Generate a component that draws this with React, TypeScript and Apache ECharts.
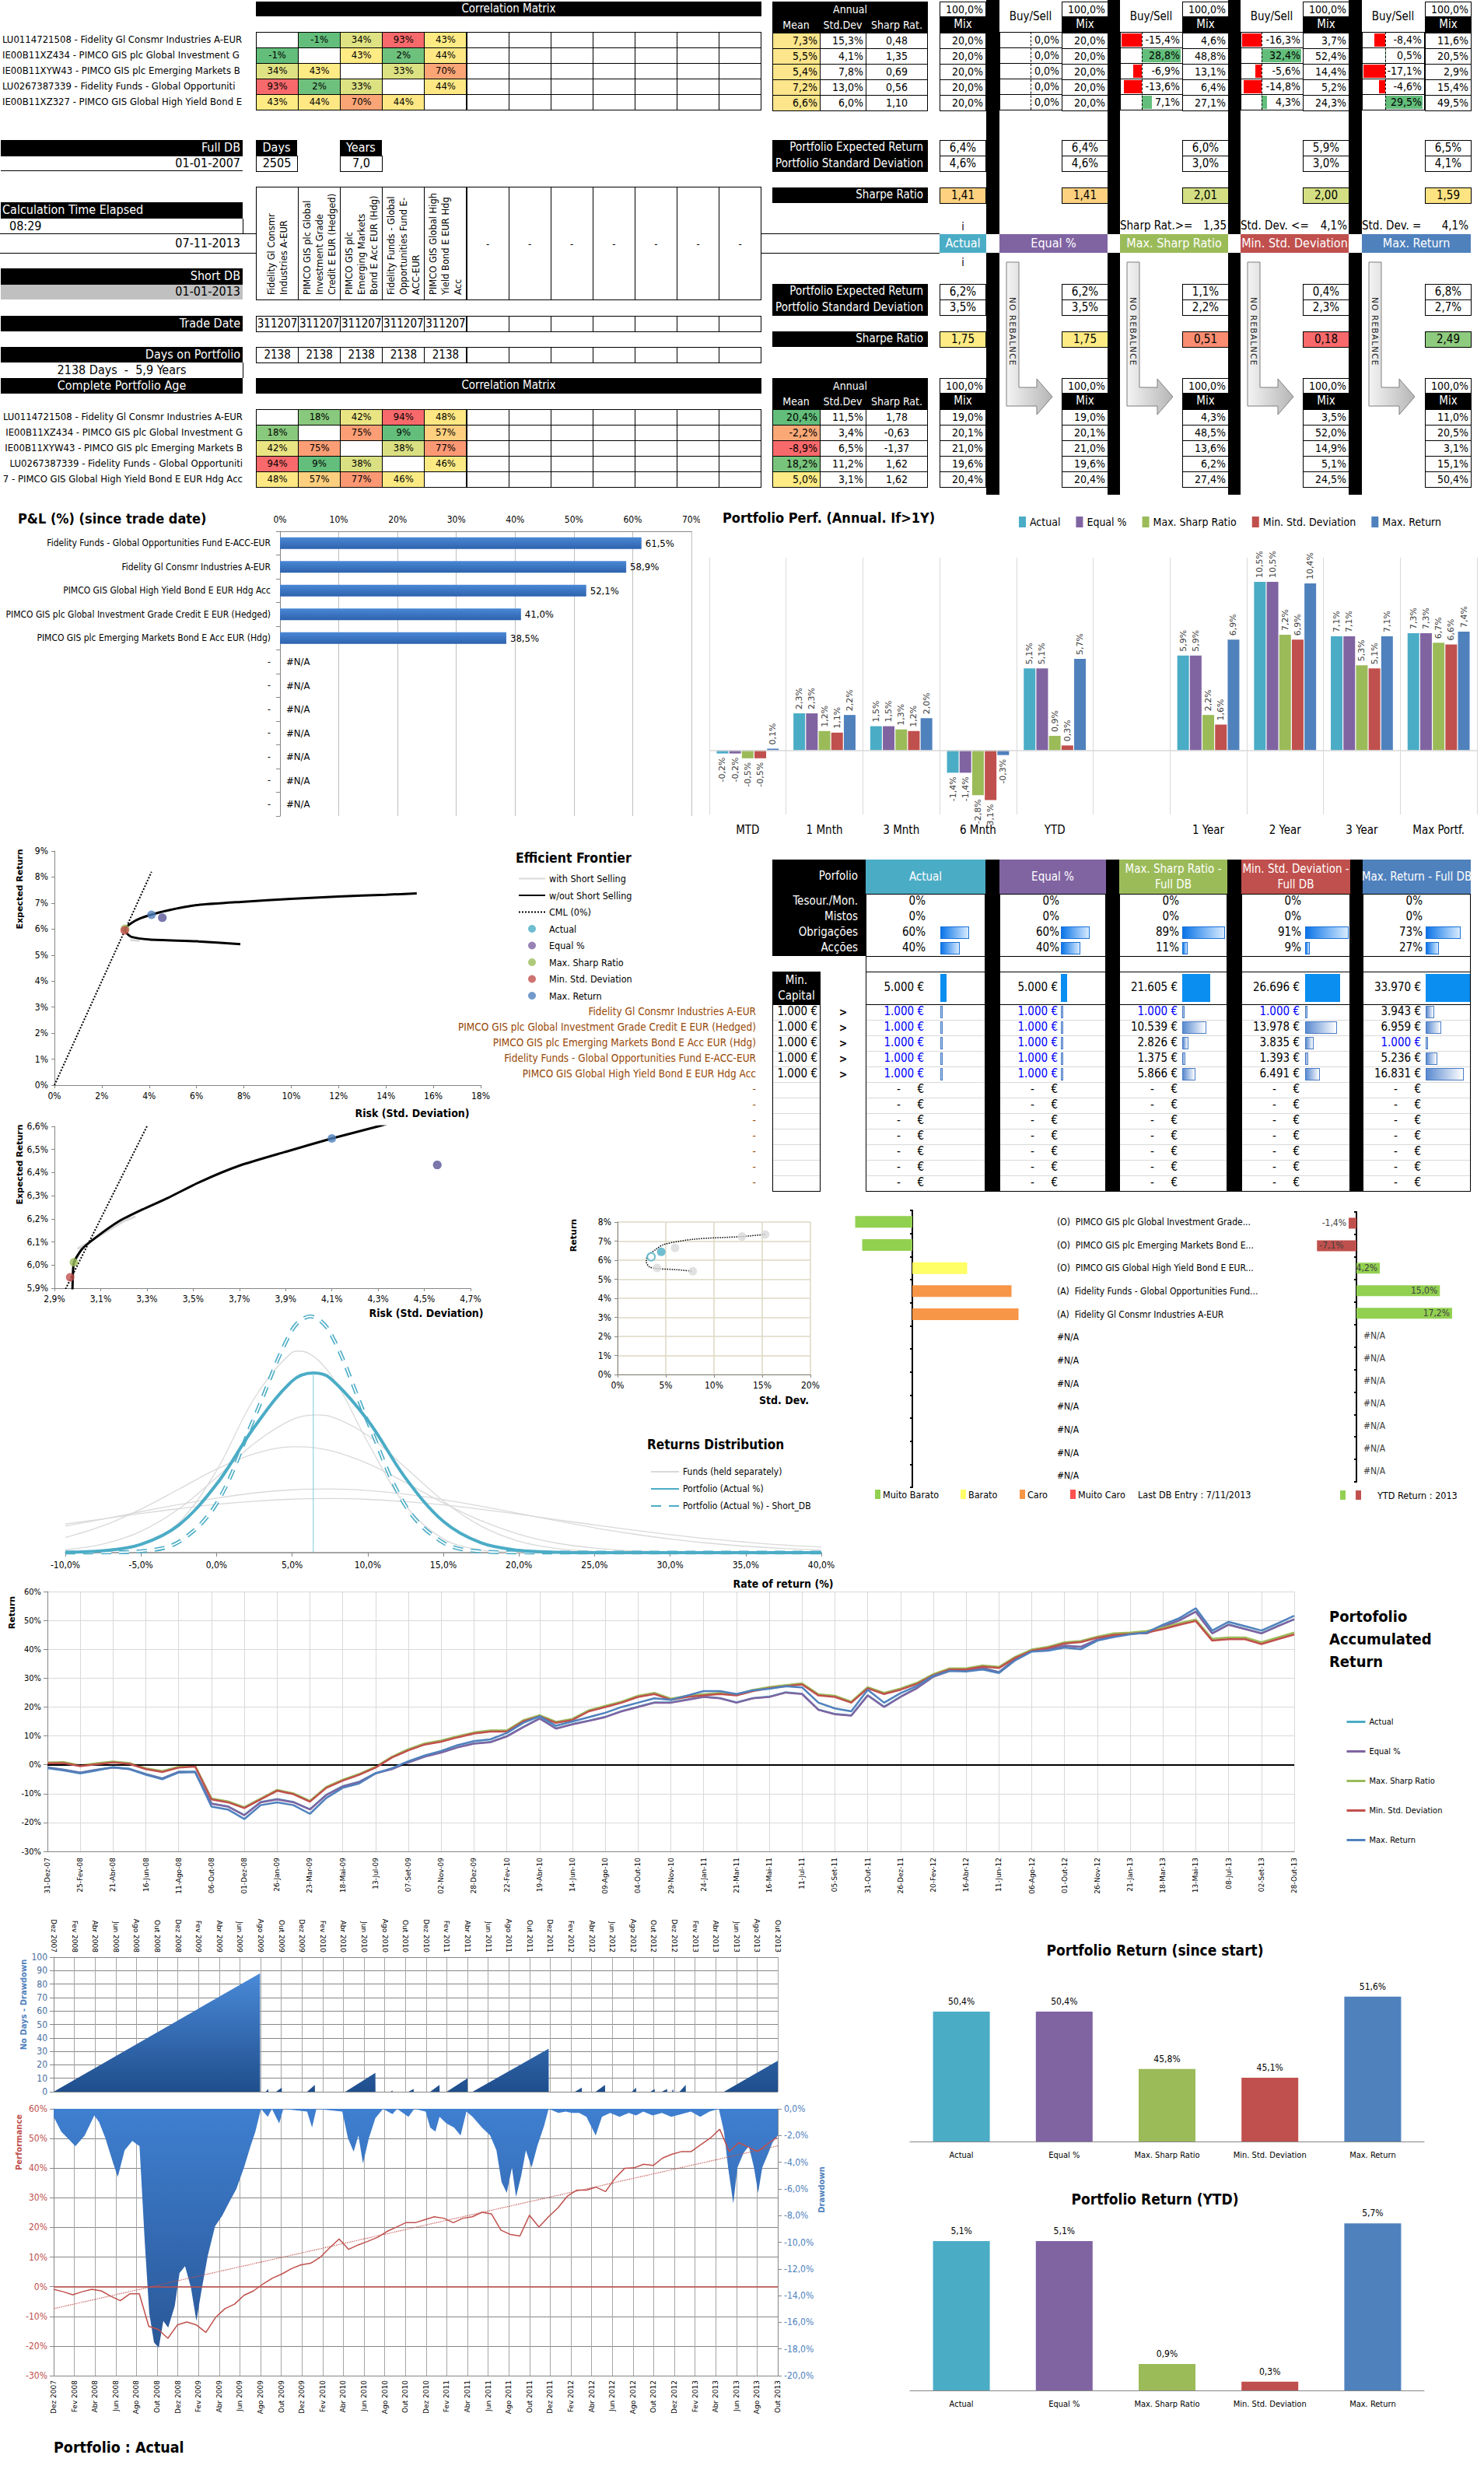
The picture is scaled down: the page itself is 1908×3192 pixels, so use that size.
import React, { useEffect, useRef } from 'react';
import * as echarts from 'echarts';

const NF = '"Liberation Sans Narrow","DejaVu Sans Condensed","Liberation Sans",Arial,sans-serif';
const WF = '"DejaVu Sans",Verdana,sans-serif';

// ======================= DATA =======================
const isins = ['LU0114721508', 'IE00B11XZ434', 'IE00B11XYW43', 'LU0267387339', 'IE00B11XZ327'];
const funds = [
  'Fidelity Gl Consmr Industries A-EUR',
  'PIMCO GIS plc Global Investment Grade Credit E EUR (Hedged)',
  'PIMCO GIS plc Emerging Markets Bond E Acc EUR (Hdg)',
  'Fidelity Funds - Global Opportunities Fund E-ACC-EUR',
  'PIMCO GIS Global High Yield Bond E EUR Hdg Acc',
];
const matrixLabelsFull = [
  'LU0114721508 - Fidelity Gl Consmr Industries A-EUR',
  'IE00B11XZ434 - PIMCO GIS plc Global Investment G',
  'IE00B11XYW43 - PIMCO GIS plc Emerging Markets B',
  'LU0267387339 - Fidelity Funds - Global Opportuniti',
  'IE00B11XZ327 - PIMCO GIS Global High Yield Bond E',
];
const matrixLabelsShort = [
  'LU0114721508 - Fidelity Gl Consmr Industries A-EUR',
  'IE00B11XZ434 - PIMCO GIS plc Global Investment G',
  'IE00B11XYW43 - PIMCO GIS plc Emerging Markets B',
  'LU0267387339 - Fidelity Funds - Global Opportuniti',
  '7 - PIMCO GIS Global High Yield Bond E EUR Hdg Acc',
];
const corrFull = [
  [null, -1, 34, 93, 43],
  [-1, null, 43, 2, 44],
  [34, 43, null, 33, 70],
  [93, 2, 33, null, 44],
  [43, 44, 70, 44, null],
];
const corrShort = [
  [null, 18, 42, 94, 48],
  [18, null, 75, 9, 57],
  [42, 75, null, 38, 77],
  [94, 9, 38, null, 46],
  [48, 57, 77, 46, null],
];
const meanFull = [7.3, 5.5, 5.4, 7.2, 6.6];
const sdFull = [15.3, 4.1, 7.8, 13.0, 6.0];
const sharpFull = [0.48, 1.35, 0.69, 0.56, 1.10];
const meanShort = [20.4, -2.2, -8.9, 18.2, 5.0];
const sdShort = [11.5, 3.4, 6.5, 11.2, 3.1];
const sharpShort = [1.78, -0.63, -1.37, 1.62, 1.62];

const strategies = ['Actual', 'Equal %', 'Max. Sharp Ratio', 'Min. Std. Deviation', 'Max. Return'];
const mixFull = [
  [20.0, 20.0, 20.0, 20.0, 20.0],
  [20.0, 20.0, 20.0, 20.0, 20.0],
  [4.6, 48.8, 13.1, 6.4, 27.1],
  [3.7, 52.4, 14.4, 5.2, 24.3],
  [11.6, 20.5, 2.9, 15.4, 49.5],
];
const buySellFull = [
  [0, 0, 0, 0, 0],
  [-15.4, 28.8, -6.9, -13.6, 7.1],
  [-16.3, 32.4, -5.6, -14.8, 4.3],
  [-8.4, 0.5, -17.1, -4.6, 29.5],
];
const mixShort = [
  [19.0, 20.1, 21.0, 19.6, 20.4],
  [19.0, 20.1, 21.0, 19.6, 20.4],
  [4.3, 48.5, 13.6, 6.2, 27.4],
  [3.5, 52.0, 14.9, 5.1, 24.5],
  [11.0, 20.5, 3.1, 15.1, 50.4],
];
const portRetFull = [6.4, 6.4, 6.0, 5.9, 6.5];
const portSdFull = [4.6, 4.6, 3.0, 3.0, 4.1];
const portSharpeFull = [1.41, 1.41, 2.01, 2.00, 1.59];
const portRetShort = [6.2, 6.2, 1.1, 0.4, 6.8];
const portSdShort = [3.5, 3.5, 2.2, 2.3, 2.7];
const portSharpeShort = [1.75, 1.75, 0.51, 0.18, 2.49];
const constraintLabels = ['Sharp Rat.>=', 'Std. Dev. <=', 'Std. Dev. ='];
const constraintValues = ['1,35', '4,1%', '4,1%'];
const tradeDates = ['311207', '311207', '311207', '311207', '311207'];
const daysOnPortfolio = [2138, 2138, 2138, 2138, 2138];

const allocRows = ['Tesour./Mon.', 'Mistos', 'Obrigações', 'Acções'];
const allocTesour = [0, 0, 0, 0, 0];
const allocMistos = [0, 0, 0, 0, 0];
const allocObrig = [60, 60, 89, 91, 73];
const allocAccoes = [40, 40, 11, 9, 27];
const capHeaders = ['Actual', 'Equal %', 'Max. Sharp Ratio -\nFull DB', 'Min. Std. Deviation -\nFull DB', 'Max. Return - Full DB'];
const capTotals = [5000, 5000, 21605, 26696, 33970];
const capActual = [1000, 1000, 1000, 1000, 1000];
const capEqual = [1000, 1000, 1000, 1000, 1000];
const capSharp = [1000, 10539, 2826, 1375, 5866];
const capMinSd = [1000, 13978, 3835, 1393, 6491];
const capMaxRet = [3943, 6959, 1000, 5236, 16831];
const minCapital = [1000, 1000, 1000, 1000, 1000];

const plNames = [
  'Fidelity Funds - Global Opportunities Fund E-ACC-EUR',
  'Fidelity Gl Consmr Industries A-EUR',
  'PIMCO GIS Global High Yield Bond E EUR Hdg Acc',
  'PIMCO GIS plc Global Investment Grade Credit E EUR (Hedged)',
  'PIMCO GIS plc Emerging Markets Bond E Acc EUR (Hdg)',
  '-', '-', '-', '-', '-', '-', '-',
];
const plValues = [61.5, 58.9, 52.1, 41.0, 38.5, null, null, null, null, null, null, null];

const perfCats = ['MTD', '1 Mnth', '3 Mnth', '6 Mnth', 'YTD', '', '1 Year', '2 Year', '3 Year', 'Max Portf.'];
const perfActual = [-0.2, 2.3, 1.5, -1.4, 5.1, null, 5.9, 10.5, 7.1, 7.3];
const perfEqual = [-0.2, 2.3, 1.5, -1.4, 5.1, null, 5.9, 10.5, 7.1, 7.3];
const perfSharp = [-0.5, 1.2, 1.3, -2.8, 0.9, null, 2.2, 7.2, 5.3, 6.7];
const perfMinSd = [-0.5, 1.1, 1.2, -3.1, 0.3, null, 1.6, 6.9, 5.1, 6.6];
const perfMaxRet = [0.1, 2.2, 2.0, -0.3, 5.7, null, 6.9, 10.4, 7.1, 7.4];

// efficient frontier (risk %, return %)
const frontierA = [[7.85, 5.42], [6.0, 5.53], [4.0, 5.6], [3.25, 5.7], [3.03, 5.86], [2.975, 5.96], [2.985, 6.03], [3.27, 6.24], [3.6, 6.4], [4.05, 6.54], [4.7, 6.7], [6.0, 6.92], [8.0, 7.05], [10.0, 7.16], [12.0, 7.25], [14.0, 7.32], [15.3, 7.37]];
const frontierB = [[2.975, 5.82], [2.978, 5.9], [2.984, 6.01], [3.02, 6.07], [3.08, 6.12], [3.18, 6.19], [3.28, 6.24], [3.39, 6.29], [3.53, 6.36], [3.7, 6.43], [3.9, 6.49], [4.1, 6.548], [4.3, 6.6], [4.4, 6.63]];
const shortSellA = [[3.2, 5.58], [3.6, 5.55]];
const shortSellB = [[3.0, 6.07], [3.1, 6.13], [3.2, 6.19], [3.25, 6.21]];
const cmlA = [[0, 0], [4.1, 8.2]];
const cmlB = [[2.93, 5.86], [3.31, 6.62]];
const ptActual = [4.556, 6.433];
const ptEqual = [4.556, 6.433];
const ptSharp = [2.984, 6.012];
const ptMinSd = [2.968, 5.947];
const ptMaxRet = [4.1, 6.548];

// small frontier
const smallCurve = [[15.3, 7.35], [12.9, 7.24], [7.95, 7.1], [4.84, 6.83], [3.9, 6.54], [3.1, 6.2], [2.98, 5.93], [3.3, 5.65], [4.1, 5.56], [6.1, 5.5], [7.8, 5.42]];
const smallFunds = [[15.3, 7.35], [12.9, 7.24], [5.96, 6.64], [4.1, 5.59], [7.8, 5.42]];
const smallActual = [4.53, 6.44];
const smallActualShort = [3.48, 6.18];

// returns distribution (rate %, density)
const distFund1 = [[-10, 0.0138], [-7.5, 0.0163], [-5, 0.0189], [-2.5, 0.0212], [0, 0.0233], [2.5, 0.0248], [5, 0.0258], [7.5, 0.0261], [10, 0.0257], [12.5, 0.0246], [15, 0.0230], [17.5, 0.0209], [20, 0.0185], [22.5, 0.0159], [25, 0.0134], [27.5, 0.0109], [30, 0.0087], [32.5, 0.0067], [35, 0.0051], [37.5, 0.0037], [40, 0.0027]];
const distFund2 = [[-10, 0.0128], [-7.5, 0.0162], [-5, 0.0198], [-2.5, 0.0232], [0, 0.0263], [2.5, 0.0288], [5, 0.0303], [7.5, 0.0307], [10, 0.0300], [12.5, 0.0282], [15, 0.0256], [17.5, 0.0224], [20, 0.0189], [22.5, 0.0154], [25, 0.0120], [27.5, 0.0091], [30, 0.0066], [32.5, 0.0046], [35, 0.0031], [37.5, 0.0020], [40, 0.0013]];
const distFund3 = [[-10, 0.0001], [-7.5, 0.0006], [-5, 0.0037], [-2.5, 0.0145], [0, 0.0396], [2.5, 0.0745], [5, 0.0966], [5.5, 0.0973], [7.5, 0.0864], [10, 0.0533], [12.5, 0.0227], [15, 0.0066], [17.5, 0.0013], [20, 0.0002], [22.5, 0], [25, 0], [30, 0], [35, 0], [40, 0]];
const distFund4 = [[-10, 0.0073], [-7.5, 0.0130], [-5, 0.0210], [-2.5, 0.0306], [0, 0.0403], [2.5, 0.0477], [5, 0.0511], [5.4, 0.0511], [7.5, 0.0493], [10, 0.0430], [12.5, 0.0338], [15, 0.0240], [17.5, 0.0154], [20, 0.0089], [22.5, 0.0046], [25, 0.0022], [27.5, 0.0009], [30, 0.0004], [32.5, 0.0001], [35, 0], [40, 0]];
const distFund5 = [[-10, 0.0014], [-7.5, 0.0042], [-5, 0.0103], [-2.5, 0.0211], [0, 0.0363], [2.5, 0.0527], [5, 0.0642], [6.6, 0.0665], [7.5, 0.0658], [10, 0.0566], [12.5, 0.0410], [15, 0.0250], [17.5, 0.0128], [20, 0.0055], [22.5, 0.0020], [25, 0.0006], [27.5, 0.0002], [30, 0], [35, 0], [40, 0]];
const distActual = [[-10, 0.0002], [-7.5, 0.0009], [-5, 0.0040], [-2.5, 0.0133], [0, 0.0330], [2.5, 0.0606], [5, 0.0828], [6.4, 0.0867], [7.5, 0.0843], [10, 0.0639], [12.5, 0.0360], [15, 0.0151], [17.5, 0.0047], [20, 0.0011], [22.5, 0.0002], [25, 0], [30, 0], [35, 0], [40, 0]];
const distShortDB = [[-10, 0], [-7.5, 0.0001], [-5, 0.0007], [-2.5, 0.0052], [0, 0.0237], [2.5, 0.0652], [5, 0.1075], [6.2, 0.1140], [7.5, 0.1064], [10, 0.0632], [12.5, 0.0226], [15, 0.0048], [17.5, 0.0006], [20, 0.0001], [22.5, 0], [25, 0], [30, 0], [35, 0], [40, 0]];
const distMeanLine = [[6.4, 0], [6.4, 0.0867]];

// valuation & YTD
const valLabels = [
  '(O)  PIMCO GIS plc Global Investment Grade...',
  '(O)  PIMCO GIS plc Emerging Markets Bond E...',
  '(O)  PIMCO GIS Global High Yield Bond E EUR...',
  '(A)  Fidelity Funds - Global Opportunities Fund...',
  '(A)  Fidelity Gl Consmr Industries A-EUR',
  '#N/A', '#N/A', '#N/A', '#N/A', '#N/A', '#N/A', '#N/A',
];
const valScore = [-0.49, -0.43, 0.47, 0.85, 0.91, null, null, null, null, null, null, null];
const valClass = ['Muito Barato', 'Muito Barato', 'Barato', 'Caro', 'Caro'];
const valClasses = ['Muito Barato', 'Barato', 'Caro', 'Muito Caro'];
const ytdReturn = [-1.4, -7.1, 4.2, 15.0, 17.2, null, null, null, null, null, null, null];

// accumulated return (points every 28 days from 31-Dez-07)
const accLabels = ['31-Dez-07', '25-Fev-08', '21-Abr-08', '16-Jun-08', '11-Ago-08', '06-Out-08', '01-Dez-08', '26-Jan-09', '23-Mar-09', '18-Mai-09', '13-Jul-09', '07-Set-09', '02-Nov-09', '28-Dez-09', '22-Fev-10', '19-Abr-10', '14-Jun-10', '09-Ago-10', '04-Out-10', '29-Nov-10', '24-Jan-11', '21-Mar-11', '16-Mai-11', '11-Jul-11', '05-Set-11', '31-Out-11', '26-Dez-11', '20-Fev-12', '16-Abr-12', '11-Jun-12', '06-Ago-12', '01-Out-12', '26-Nov-12', '21-Jan-13', '18-Mar-13', '13-Mai-13', '08-Jul-13', '02-Set-13', '28-Out-13'];
const accActual = [-0.9, -1.7, -2.7, -1.7, -0.9, -1.4, -3.2, -4.7, -2.4, -2.4, -13.4, -14.4, -17.4, -12.9, -11.9, -12.9, -15.4, -10.4, -7.4, -5.9, -2.9, -1.4, 0.9, 2.9, 4.3, 6.1, 7.4, 7.9, 9.9, 13.1, 16.1, 12.6, 14.1, 15.3, 16.6, 18.6, 20.1, 21.6, 21.6, 22.6, 23.6, 23.1, 21.6, 23.1, 23.6, 25.1, 24.6, 19.1, 17.6, 17.1, 24.1, 20.1, 23.6, 26.6, 30.6, 32.6, 32.6, 33.6, 32.1, 36.6, 39.9, 40.1, 41.3, 40.9, 43.4, 44.7, 45.6, 45.6, 47.9, 50.1, 53.1, 45.6, 48.6, 47.1, 45.6, 48.1, 50.4];
const accEqual = [-1.0, -1.8, -2.8, -1.8, -1.0, -1.5, -3.3, -4.8, -2.5, -2.5, -13.5, -14.5, -17.5, -13.0, -12.0, -13.0, -15.5, -10.5, -7.5, -6.0, -3.0, -1.5, 0.8, 2.8, 4.2, 6.0, 7.3, 7.8, 9.8, 13.0, 16.0, 12.5, 14.0, 15.2, 16.5, 18.5, 20.0, 21.5, 21.5, 22.5, 23.5, 23.0, 21.5, 23.0, 23.5, 25.0, 24.5, 19.0, 17.5, 17.0, 24.0, 20.0, 23.5, 26.5, 30.5, 32.5, 32.5, 33.5, 32.0, 36.5, 39.8, 40.0, 41.2, 40.8, 43.3, 44.6, 45.5, 45.5, 47.8, 50.0, 53.0, 45.5, 48.5, 47.0, 45.5, 48.0, 50.4];
const accSharp = [0.8, 0.9, -0.2, 0.5, 1.1, 0.6, -1.2, -2.2, -0.7, -0.3, -11.7, -12.7, -14.7, -11.7, -8.7, -9.9, -12.5, -7.7, -5.2, -3.2, -0.7, 2.8, 5.4, 7.4, 8.4, 9.9, 11.2, 11.9, 11.9, 15.4, 17.2, 14.9, 15.9, 18.9, 20.4, 21.9, 23.9, 24.9, 22.9, 23.9, 24.4, 24.9, 24.4, 25.9, 26.9, 27.6, 28.2, 24.4, 23.9, 21.9, 26.9, 24.9, 26.4, 28.4, 31.4, 33.4, 33.4, 34.4, 33.9, 37.4, 39.9, 40.9, 42.4, 42.9, 44.4, 45.5, 45.8, 46.3, 47.5, 49.0, 50.3, 43.6, 44.1, 44.1, 42.4, 44.1, 45.8];
const accMinSd = [0.5, 0.6, -0.5, 0.2, 0.8, 0.3, -1.5, -2.5, -1.0, -0.6, -12.0, -13.0, -15.0, -12.0, -9.0, -10.2, -12.8, -8.0, -5.5, -3.5, -1.0, 2.5, 5.0, 7.0, 8.0, 9.5, 10.8, 11.5, 11.5, 15.0, 16.8, 14.5, 15.5, 18.5, 20.0, 21.5, 23.5, 24.5, 22.5, 23.5, 24.0, 24.5, 24.0, 25.5, 26.5, 27.2, 27.8, 24.0, 23.5, 21.5, 26.5, 24.5, 26.0, 28.0, 31.0, 33.0, 33.0, 34.0, 33.5, 37.0, 39.5, 40.5, 42.0, 42.5, 44.0, 45.0, 45.3, 45.8, 47.0, 48.5, 49.8, 43.0, 43.5, 43.5, 41.8, 43.5, 45.1];
const accMaxRet = [-1.2, -2.0, -3.0, -2.0, -0.8, -1.5, -3.5, -5.0, -2.7, -2.5, -14.5, -15.5, -18.8, -14.0, -13.0, -14.0, -17.0, -11.5, -8.0, -6.5, -3.0, -1.2, 1.2, 3.2, 4.8, 6.8, 8.2, 8.8, 11.0, 14.5, 16.8, 13.5, 15.0, 16.5, 18.0, 20.0, 21.5, 23.0, 22.5, 24.0, 25.5, 25.5, 24.5, 25.8, 26.3, 27.2, 26.8, 21.5, 19.5, 18.5, 26.0, 21.5, 24.8, 27.3, 30.8, 32.5, 32.3, 33.0, 31.8, 36.2, 39.2, 39.5, 40.6, 40.0, 43.0, 44.2, 45.2, 45.8, 48.5, 50.8, 54.2, 46.5, 49.5, 48.0, 46.5, 49.0, 51.6];

// drawdown (x = months since Dez 2007)
const ddMonths = ['Dez 2007', 'Fev 2008', 'Abr 2008', 'Jun 2008', 'Ago 2008', 'Out 2008', 'Dez 2008', 'Fev 2009', 'Abr 2009', 'Jun 2009', 'Ago 2009', 'Out 2009', 'Dez 2009', 'Fev 2010', 'Abr 2010', 'Jun 2010', 'Ago 2010', 'Out 2010', 'Dez 2010', 'Fev 2011', 'Abr 2011', 'Jun 2011', 'Ago 2011', 'Out 2011', 'Dez 2011', 'Fev 2012', 'Abr 2012', 'Jun 2012', 'Ago 2012', 'Out 2012', 'Dez 2012', 'Fev 2013', 'Abr 2013', 'Jun 2013', 'Ago 2013', 'Out 2013'];
const ddDays = [[0, 0], [19.95, 88], [19.96, 0], [20.5, 0], [20.75, 2], [20.76, 0], [21.5, 0], [22.05, 3], [22.06, 0], [24.5, 0], [25.25, 5], [25.26, 0], [28.2, 0], [31.1, 14], [31.11, 0], [32.6, 0], [32.75, 1], [32.76, 0], [34.3, 0], [34.8, 2], [34.81, 0], [36.4, 0], [37.3, 5], [37.31, 0], [38.0, 0], [40.0, 10], [40.01, 0], [40.5, 0], [47.85, 32], [47.86, 0], [50.4, 0], [51.05, 3], [51.06, 0], [52.4, 0], [53.3, 5], [53.31, 0], [55.9, 0], [56.3, 3], [56.31, 0], [57.7, 0], [58.1, 2], [58.11, 0], [58.8, 0], [59.3, 2], [59.31, 0], [59.75, 0], [59.9, 2], [59.91, 0], [60.5, 0], [61.1, 5], [61.11, 0], [64.8, 0], [70, 23]];
const ddDepth = [[0, -0.6], [0.73, -1.7], [2.1, -2.8], [3.0, -2.0], [3.93, -0.5], [4.4, -1.0], [5.0, -2.2], [5.76, -4.1], [6.2, -5.1], [6.86, -3.1], [7.6, -2.4], [8.3, -2.8], [8.8, -9.9], [9.24, -15.3], [9.7, -17.5], [10.16, -17.9], [10.6, -15.9], [11.07, -16.4], [11.7, -14.8], [12.17, -12.3], [12.7, -11.8], [13.27, -13.4], [13.8, -15.9], [14.27, -13.7], [14.9, -11.0], [15.6, -8.8], [16.3, -8.0], [16.9, -7.1], [17.66, -6.0], [18.4, -4.4], [19.03, -2.8], [19.5, -1.7], [20.04, 0], [20.7, -0.6], [21.1, 0], [21.8, -1.1], [22.2, 0], [24.5, -0.2], [24.98, -1.4], [25.4, 0], [27.9, -0.2], [28.45, -2.2], [29.0, -3.2], [29.46, -2.0], [29.9, -4.1], [30.47, -2.2], [31.1, -0.7], [31.84, 0], [32.75, -0.4], [33.2, 0], [34.3, -0.6], [34.86, 0], [35.96, -0.2], [36.4, -1.4], [36.9, -1.7], [37.3, -0.6], [37.97, -1.1], [38.7, -1.4], [39.34, -2.0], [39.9, -0.2], [40.5, -0.6], [41.4, -1.4], [42.2, -2.0], [42.8, -3.1], [43.3, -5.5], [43.8, -6.3], [44.3, -4.4], [44.7, -6.6], [45.2, -5.0], [45.65, -3.1], [46.2, -4.4], [46.75, -2.8], [47.4, -1.3], [47.85, 0], [48.8, -0.3], [49.5, -0.2], [50.1, -0.3], [50.8, -0.3], [51.5, -0.6], [52.4, -2.0], [53.0, -0.6], [53.8, -0.3], [54.7, -0.6], [55.6, -0.3], [56.3, -0.5], [57.0, -0.2], [57.9, -0.5], [58.8, -0.3], [59.7, -0.6], [60.7, -0.4], [61.6, -0.2], [62.5, -0.6], [63.4, -0.2], [64.3, 0], [64.8, -1.7], [65.2, -4.4], [65.7, -7.1], [66.1, -4.4], [66.7, -3.3], [67.2, -2.8], [67.7, -4.4], [68.1, -6.3], [68.5, -4.4], [69.1, -3.3], [69.5, -2.5], [70, -2.0]];
const ddTrend = [[0, -7.4], [70, 47.5]];

const retSinceStart = [50.4, 50.4, 45.8, 45.1, 51.6];
const retYTD = [5.1, 5.1, 0.9, 0.3, 5.7];

// ======================= STYLE / LAYOUT =======================
const stratColors = ['#4bacc6', '#8064a2', '#9bbb59', '#c0504d', '#4f81bd'];
const GREEN = '#63be7b', YEL = '#ffeb84', RED = '#f8696b';
const axisGray = '#868686';
const COLX = 329, COLW = 54.1, ROW1 = 41, ROW2 = 526, RH = 20;
const MIXX = [1208, 1365, 1520, 1675, 1832];
const BSX = [1285, 1440, 1595, 1751];
const SEPS = [[1268, 17], [1424, 16], [1579, 16], [1734, 17]];
const CX = [1113, 1285, 1439, 1596, 1752];
const CWD = [154, 137, 139, 140, 139];
const CSEP = [[1267, 18], [1422, 17], [1578, 18], [1736, 16]];
const sharpeBgFull = ['#fdd17f', '#fdd17f', '#d3df82', '#d3df82', '#fee382'];
const sharpeBgShort = ['#ffeb84', '#ffeb84', '#f98d71', '#f8696b', '#8ecb7e'];

const pct1 = (v: number) => v.toFixed(1).replace('.', ',') + '%';
const dec2 = (v: number) => v.toFixed(2).replace('.', ',');
const eur = (v: number) => String(v).replace(/\B(?=(\d{3})+(?!\d))/g, '.') + ' €';
function hex(c: string) { return [1, 3, 5].map(i => parseInt(c.slice(i, i + 2), 16)); }
function mixC(a: string, b: string, t: number) {
  const A = hex(a), Bc = hex(b);
  const tt = Math.max(0, Math.min(1, t));
  return 'rgb(' + A.map((x, i) => Math.round(x + (Bc[i] - x) * tt)).join(',') + ')';
}
function scale3(v: number, min: number, mid: number, max: number, lo: string, md: string, hi: string) {
  if (v <= mid) return mixC(lo, md, (v - min) / (mid - min || 1));
  return mixC(md, hi, (v - mid) / (max - mid || 1));
}
function stats(m: any[][]) {
  const vals: number[] = [];
  m.forEach(r => r.forEach(v => { if (v != null) vals.push(v); }));
  vals.sort((a, b) => a - b);
  const n = vals.length;
  const med = n % 2 ? vals[(n - 1) / 2] : (vals[n / 2 - 1] + vals[n / 2]) / 2;
  return [vals[0], med, vals[n - 1]];
}

type BP = { x: number; y: number; w: number; h: number; bg?: string; c?: string; al?: string; fs?: number; b?: boolean; bd?: boolean; pr?: number; pl?: number; ff?: string; st?: any; children?: any };
function B(p: BP) {
  return (
    <div style={{
      position: 'absolute', left: p.x, top: p.y, width: p.w, height: p.h, background: p.bg, color: p.c || '#000',
      display: 'flex', alignItems: 'center', justifyContent: p.al === 'l' ? 'flex-start' : p.al === 'r' ? 'flex-end' : 'center',
      fontSize: p.fs || 13, fontWeight: p.b ? 'bold' : 'normal', fontFamily: p.ff || NF, boxSizing: 'border-box',
      border: p.bd ? '1px solid #000' : undefined, paddingRight: p.pr, paddingLeft: p.pl, whiteSpace: 'nowrap', overflow: 'hidden', lineHeight: 1.15,
      ...(p.st || {}),
    }}>{p.children}</div>
  );
}

function EC({ x, y, w, h, make }: any) {
  const ref = useRef<HTMLDivElement>(null);
  useEffect(() => {
    const chart = echarts.init(ref.current as HTMLDivElement, null, { renderer: 'svg' });
    chart.setOption(make());
    return () => chart.dispose();
  }, []);
  return <div ref={ref} style={{ position: 'absolute', left: x, top: y, width: w, height: h }} />;
}

// ======================= TABLES =======================
function buildTables(els: any[]) {
  let key = 0;
  const add = (p: BP) => els.push(<B key={'t' + key++} {...p} />);

  const matrix = (m: any[][], labels: string[], y0: number, rightAlignLabels: boolean) => {
    const [mn, md, mx] = stats(m);
    for (let i = 0; i < 5; i++) {
      add({ x: rightAlignLabels ? 0 : 3, y: y0 + i * RH, w: rightAlignLabels ? 312 : 309, h: RH, al: rightAlignLabels ? 'r' : 'l', fs: 13, children: labels[i] });
      for (let j = 0; j < 12; j++) {
        const v = j < 5 ? m[i][j] : null;
        add({ x: COLX + j * COLW, y: y0 + i * RH, w: COLW + 1, h: RH + 1, bd: true, fs: 13, bg: v == null ? '#fff' : scale3(v, mn, md, mx, GREEN, YEL, RED), children: v == null ? '' : v + '%' });
      }
    }
  };
  const annual = (y0: number, means: number[], sds: number[], srs: number[], meanBg: (v: number) => string) => {
    add({ x: 993, y: y0, w: 200, h: 40, bg: '#000' });
    add({ x: 993, y: y0, w: 200, h: 20, c: '#fff', fs: 14, children: 'Annual' });
    add({ x: 993, y: y0 + 20, w: 61, h: 20, c: '#fff', fs: 14, children: 'Mean' });
    add({ x: 1054, y: y0 + 20, w: 59, h: 20, c: '#fff', fs: 14, children: 'Std.Dev' });
    add({ x: 1113, y: y0 + 20, w: 80, h: 20, c: '#fff', fs: 14, children: 'Sharp Rat.' });
    for (let i = 0; i < 5; i++) {
      const y = y0 + 40 + i * RH;
      add({ x: 993, y, w: 62, h: RH + 1, bd: true, bg: meanBg(means[i]), al: 'r', pr: 3, fs: 14, children: pct1(means[i]) });
      add({ x: 1054, y, w: 60, h: RH + 1, bd: true, al: 'r', pr: 3, fs: 14, children: pct1(sds[i]) });
      add({ x: 1113, y, w: 80, h: RH + 1, bd: true, fs: 14, children: dec2(srs[i]) });
    }
  };
  const mixCols = (y0: number, mixes: number[][]) => {
    MIXX.forEach((x, i) => {
      add({ x, y: y0, w: 60, h: 20, bd: true, al: 'r', pr: 3, fs: 14, children: '100,0%' });
      add({ x, y: y0 + 20, w: 60, h: 20, bg: '#000', c: '#fff', fs: 15, children: 'Mix' });
      for (let r = 0; r < 5; r++) add({ x, y: y0 + 40 + r * RH, w: 60, h: RH + 1, bd: true, al: 'r', pr: 3, fs: 14, children: pct1(mixes[i][r]) });
    });
  };
  const portStats = (y0: number, rets: number[], sds: number[], shs: number[], bgs: string[]) => {
    add({ x: 993, y: y0, w: 200, h: 41, bg: '#000' });
    add({ x: 993, y: y0, w: 200, h: 20, c: '#fff', al: 'r', pr: 6, fs: 15, children: 'Portfolio Expected Return' });
    add({ x: 993, y: y0 + 20, w: 200, h: 21, c: '#fff', al: 'r', pr: 6, fs: 15, children: 'Portfolio Standard Deviation' });
    add({ x: 993, y: y0 + 61, w: 200, h: 20, bg: '#000', c: '#fff', al: 'r', pr: 6, fs: 15, children: 'Sharpe Ratio' });
    MIXX.forEach((x, i) => {
      add({ x, y: y0, w: 60, h: 21, bd: true, fs: 15, children: pct1(rets[i]) });
      add({ x, y: y0 + 20, w: 60, h: 21, bd: true, fs: 15, children: pct1(sds[i]) });
      add({ x, y: y0 + 61, w: 60, h: 21, bd: true, bg: bgs[i], fs: 15, children: dec2(shs[i]) });
    });
  };

  // ---- top block
  add({ x: 329, y: 2, w: 650, h: 19, bg: '#000', c: '#fff', fs: 15, children: 'Correlation Matrix' });
  matrix(corrFull, matrixLabelsFull, ROW1, false);
  annual(2, meanFull, sdFull, sharpFull, () => '#fce58a');
  SEPS.forEach(([x, w]) => { add({ x, y: 0, w, h: 301, bg: '#000' }); add({ x, y: 325, w, h: 311, bg: '#000' }); });
  mixCols(2, mixFull);
  BSX.forEach((x, k) => {
    add({ x, y: 2, w: 80, h: 39, fs: 15, children: 'Buy/Sell' });
    const vals = buySellFull[k];
    const mn = Math.min(0, ...vals), mx = Math.max(0, ...vals);
    const range = mx - mn;
    const axisX = range === 0 ? x + 40 : x + 2 + (-mn / range) * 76;
    for (let r = 0; r < 5; r++) {
      const y = ROW1 + r * RH;
      add({ x, y, w: 81, h: RH + 1, bd: true });
      const v = vals[r];
      if (range > 0 && v !== 0) {
        const bw = Math.abs(v) / range * 76;
        add({ x: v < 0 ? axisX - bw : axisX, y: y + 2, w: bw, h: RH - 3, bg: v < 0 ? '#ff0000' : '#63be7b' });
      }
      add({ x, y, w: 80, h: RH, al: 'r', pr: 3, fs: 14, children: pct1(v) });
    }
    els.push(<div key={'ax' + k} style={{ position: 'absolute', left: axisX, top: ROW1, width: 0, height: 100, borderLeft: '1px dashed #000' }} />);
  });
  portStats(180, portRetFull, portSdFull, portSharpeFull, sharpeBgFull);
  add({ x: 1208, y: 282, w: 60, h: 18, fs: 14, children: 'i' });
  [1440, 1595, 1751].forEach((x, i) => {
    add({ x, y: 282, w: 140, h: 18, al: 'l', fs: 15, children: constraintLabels[i] });
    add({ x, y: 282, w: 140, h: 18, al: 'r', pr: 3, fs: 15, children: constraintValues[i] });
  });
  add({ x: 0, y: 300, w: 329, h: 1, bg: '#000' });
  add({ x: 0, y: 325, w: 329, h: 1, bg: '#000' });
  add({ x: 978, y: 300, w: 230, h: 1, bg: '#000' });
  add({ x: 978, y: 325, w: 230, h: 1, bg: '#000' });
  const bandX = [[1208, 60], [1285, 139], [1440, 139], [1595, 139], [1751, 140]];
  bandX.forEach(([x, w], i) => add({ x, y: 301, w, h: 24, bg: stratColors[i], c: '#fff', fs: 16, children: strategies[i] }));
  add({ x: 1208, y: 328, w: 60, h: 18, fs: 14, children: 'i' });
  portStats(365, portRetShort, portSdShort, portSharpeShort, sharpeBgShort);
  annual(486, meanShort, sdShort, sharpShort, (v) => scale3(v, Math.min(...meanShort), 5.0, Math.max(...meanShort), RED, YEL, GREEN));
  mixCols(486, mixShort);
  BSX.forEach((x, k) => {
    els.push(<div key={'nr' + k} style={{ position: 'absolute', left: x + 9, top: 378, width: 16, height: 96, writingMode: 'vertical-rl', fontFamily: WF, fontSize: 10.5, letterSpacing: 1.2, color: '#222', display: 'flex', alignItems: 'center', justifyContent: 'center', zIndex: 2 }}>NO REBALNCE</div>);
  });

  // ---- left block
  add({ x: 1, y: 180, w: 311, h: 21, bg: '#000', c: '#fff', al: 'r', pr: 3, fs: 16, children: 'Full DB' });
  add({ x: 1, y: 201, w: 311, h: 19, al: 'r', pr: 3, fs: 16, children: '01-01-2007', st: { borderBottom: '1px solid #000' } });
  add({ x: 329, y: 180, w: 53, h: 21, bg: '#000', c: '#fff', fs: 16, children: 'Days' });
  add({ x: 329, y: 200, w: 54, h: 21, bd: true, fs: 16, children: '2505' });
  add({ x: 437, y: 180, w: 54, h: 21, bg: '#000', c: '#fff', fs: 16, children: 'Years' });
  add({ x: 437, y: 200, w: 55, h: 21, bd: true, fs: 16, children: '7,0' });
  add({ x: 1, y: 260, w: 311, h: 21, bg: '#000', c: '#fff', al: 'l', pl: 2, fs: 16, children: 'Calculation Time Elapsed' });
  add({ x: 1, y: 281, w: 312, h: 20, al: 'l', pl: 11, fs: 16, children: '08:29', st: { borderRight: '1px solid #000' } });
  add({ x: 1, y: 301, w: 311, h: 24, al: 'r', pr: 3, fs: 16, children: '07-11-2013' });
  add({ x: 1, y: 345, w: 311, h: 21, bg: '#000', c: '#fff', al: 'r', pr: 3, fs: 16, children: 'Short DB' });
  add({ x: 1, y: 366, w: 311, h: 19, bg: '#c0c0c0', al: 'r', pr: 3, fs: 16, children: '01-01-2013' });
  for (let j = 0; j < 12; j++) {
    const x = COLX + j * COLW;
    els.push(
      <div key={'vh' + j} style={{ position: 'absolute', left: x, top: 240, width: COLW + 1, height: 146, border: '1px solid #000', boxSizing: 'border-box', display: 'flex', justifyContent: 'center', alignItems: j < 5 ? 'flex-end' : 'center', overflow: 'hidden' }}>
        {j < 5 ? (
          <div style={{ writingMode: 'vertical-rl', transform: 'rotate(180deg)', height: 140, fontFamily: WF, fontSize: 11.5, lineHeight: '16px', whiteSpace: 'normal', paddingTop: 6, boxSizing: 'border-box' }}>{funds[j]}</div>
        ) : <span style={{ fontFamily: NF, fontSize: 13 }}>-</span>}
      </div>
    );
  }
  add({ x: 1, y: 406, w: 311, h: 20, bg: '#000', c: '#fff', al: 'r', pr: 3, fs: 16, children: 'Trade Date' });
  add({ x: 1, y: 446, w: 311, h: 20, bg: '#000', c: '#fff', al: 'r', pr: 3, fs: 16, children: 'Days on Portfolio' });
  for (let j = 0; j < 12; j++) {
    add({ x: COLX + j * COLW, y: 406, w: COLW + 1, h: 21, bd: true, fs: 15, children: j < 5 ? tradeDates[j] : '' });
    add({ x: COLX + j * COLW, y: 446, w: COLW + 1, h: 21, bd: true, fs: 15, children: j < 5 ? String(daysOnPortfolio[j]) : '' });
  }
  add({ x: 1, y: 466, w: 312, h: 20, fs: 16, children: '2138 Days  -  5,9 Years', st: { borderRight: '1px solid #000', whiteSpace: 'pre' } });
  add({ x: 1, y: 486, w: 311, h: 20, bg: '#000', c: '#fff', fs: 16, children: 'Complete Portfolio Age' });
  add({ x: 329, y: 486, w: 650, h: 20, bg: '#000', c: '#fff', fs: 15, children: 'Correlation Matrix' });
  matrix(corrShort, matrixLabelsShort, ROW2, true);

  // ---- capital table
  add({ x: 993, y: 1105, w: 120, h: 124, bg: '#000' });
  add({ x: 993, y: 1105, w: 118, h: 44, c: '#fff', al: 'r', pr: 8, fs: 15, children: 'Porfolio' });
  allocRows.forEach((r, i) => add({ x: 993, y: 1149 + i * 20, w: 118, h: 20, c: '#fff', al: 'r', pr: 8, fs: 15, children: r }));
  CSEP.forEach(([x, w]) => add({ x, y: 1105, w, h: 427, bg: '#000' }));
  const allocs = [allocTesour, allocMistos, allocObrig, allocAccoes];
  const caps = [capActual, capEqual, capSharp, capMinSd, capMaxRet];
  const maxTotal = Math.max(...capTotals);
  const maxAsset = Math.max(...caps.map(a => Math.max(...a)));
  CX.forEach((x, c) => {
    const w = CWD[c];
    add({ x, y: 1105, w, h: 44, bg: stratColors[c], c: '#fff', fs: 15, st: { whiteSpace: 'pre', textAlign: 'center', lineHeight: '20px' }, children: capHeaders[c] });
    add({ x, y: 1149, w, h: 81, bd: true });
    add({ x, y: 1229, w, h: 21, bd: true });
    add({ x, y: 1249, w, h: 43, bd: true });
    add({ x, y: 1291, w, h: 241, bd: true });
    const bx = x + w - 58;
    allocs.forEach((a, r) => {
      add({ x, y: 1149 + r * 20, w: 77, h: 20, al: 'r', fs: 15, children: a[c] + '%' });
      if (a[c] > 0) add({ x: bx, y: 1151 + r * 20, w: a[c] * 0.62, h: 16, st: { background: 'linear-gradient(to right,#0a74e8,#d8ebff)', border: '1px solid #1a73d9' } });
    });
    add({ x, y: 1249, w: 75, h: 42, al: 'r', fs: 15, children: eur(capTotals[c]) });
    add({ x: bx, y: 1252, w: capTotals[c] / maxTotal * 57, h: 36, bg: '#0a8ef0' });
    for (let r = 0; r < 12; r++) {
      const y = 1291 + r * 20;
      if (r < 11) add({ x: x + 1, y: y + 20, w: w - 2, h: 1, bg: '#d9d9d9' });
      if (r < 5) {
        const v = caps[c][r];
        add({ x, y, w: 75, h: 20, al: 'r', fs: 15, c: v === minCapital[r] ? '#0000ff' : '#000', children: eur(v) });
        add({ x: bx, y: y + 2, w: Math.max(2, v / maxAsset * 49), h: 16, st: { background: 'linear-gradient(to right,#5a8ad0,#ffffff)', border: '1px solid #4a7cc4' } });
      } else {
        add({ x, y, w: 75, h: 20, al: 'r', fs: 15, st: { whiteSpace: 'pre' }, children: '-     €' });
      }
    }
  });
  add({ x: 993, y: 1249, w: 62, h: 42, bg: '#000', c: '#fff', fs: 15, st: { whiteSpace: 'pre', textAlign: 'center', lineHeight: '20px' }, children: 'Min.\nCapital' });
  add({ x: 993, y: 1291, w: 62, h: 241, bd: true });
  for (let r = 0; r < 12; r++) {
    const y = 1291 + r * 20;
    if (r < 11) add({ x: 994, y: y + 20, w: 60, h: 1, bg: '#d9d9d9' });
    add({ x: 540, y, w: 432, h: 20, al: 'r', fs: 13.5, c: '#974806', children: r < 5 ? funds[r] : '-' });
    if (r < 5) {
      add({ x: 993, y, w: 60, h: 20, al: 'r', pr: 2, fs: 15, children: eur(minCapital[r]) });
      add({ x: 1077, y, w: 14, h: 20, fs: 14, b: true, children: '>' });
    }
  }
}

function arrowPts(bx: number) {
  const pts = [[9, 337], [25, 337], [25, 498], [48, 498], [48, 487], [68, 510], [48, 533], [48, 522], [9, 522]];
  return pts.map(([dx, y]) => (bx + dx) + ',' + y).join(' ');
}

// ======================= CHART OPTIONS =======================
const lbl = (extra?: any) => ({ fontFamily: NF, fontSize: 12, color: '#000', ...(extra || {}) });
const gText = (text: string, x: number, y: number, o?: any) => ({
  type: 'text', x, y, rotation: o && o.rot ? o.rot : 0, silent: true,
  style: { text, fontFamily: (o && o.ff) || NF, fontSize: (o && o.fs) || 14, fontWeight: (o && o.fw) || 'bold', fill: (o && o.fill) || '#000', align: (o && o.align) || 'center', verticalAlign: 'middle', lineHeight: o && o.lh },
});
const G = (g: any) => ({ outerBoundsMode: 'none', ...g });
const hideSym = { itemStyle: { opacity: 0 } };

function plOption() {
  return {
    animation: false,
    textStyle: { fontFamily: NF },
    title: { text: 'P&L (%) (since trade date)', left: 18, top: 12, textStyle: { fontFamily: NF, fontSize: 18, fontWeight: 'bold', color: '#000' } },
    grid: G({ left: 360, top: 43, width: 529, height: 366 }),
    xAxis: { type: 'value', position: 'top', min: 0, max: 70, interval: 10, axisLabel: lbl({ formatter: '{value}%', margin: 9 }), axisLine: { show: true, lineStyle: { color: axisGray } }, axisTick: { show: false }, splitLine: { show: true, lineStyle: { color: '#bfbfbf' } } },
    yAxis: { type: 'category', inverse: true, data: plNames, axisLine: { show: true, lineStyle: { color: axisGray } }, axisTick: { show: true, length: 5, lineStyle: { color: axisGray } }, axisLabel: lbl({ fontSize: 12, margin: 12 }) },
    series: [{
      type: 'bar', barWidth: 15,
      data: plValues.map(v => (v == null ? { value: 0, label: { formatter: '#N/A', distance: 8 } } : v)),
      itemStyle: { color: { type: 'linear', x: 0, y: 0, x2: 0, y2: 1, colorStops: [{ offset: 0, color: '#4a88d6' }, { offset: 1, color: '#2d62ad' }] } },
      label: { show: true, position: 'right', fontFamily: NF, fontSize: 13, color: '#000', formatter: (p: any) => pct1(p.value) },
    }],
  };
}

function perfOption() {
  const arrs = [perfActual, perfEqual, perfSharp, perfMinSd, perfMaxRet];
  return {
    animation: false,
    textStyle: { fontFamily: NF },
    title: { text: 'Portfolio Perf. (Annual. If>1Y)', left: 24, top: 11, textStyle: { fontFamily: NF, fontSize: 18, fontWeight: 'bold', color: '#000' } },
    legend: { left: 405, top: 19, icon: 'rect', itemWidth: 9, itemHeight: 14, itemGap: 20, textStyle: { fontFamily: NF, fontSize: 14, color: '#000' }, data: strategies },
    grid: G({ left: 12, top: 77, width: 987, height: 330 }),
    xAxis: { type: 'category', data: perfCats, axisLine: { show: false }, axisTick: { show: false }, axisLabel: lbl({ fontSize: 15, margin: 12 }), splitLine: { show: true, lineStyle: { color: '#d9d9d9' } } },
    yAxis: { type: 'value', min: -4, max: 12, show: false },
    series: arrs.map((arr, si) => ({
      name: strategies[si], type: 'bar', barWidth: 15, barGap: '8%',
      itemStyle: { color: stratColors[si] },
      data: arr.map(v => (v == null ? null : { value: v, label: v < 0 ? { position: 'bottom', align: 'right' } : { position: 'top', align: 'left' } })),
      label: { show: true, rotate: 90, verticalAlign: 'middle', distance: 5, fontFamily: WF, fontSize: 11, color: '#404040', formatter: (p: any) => pct1(p.value) },
      markLine: si === 0 ? { silent: true, symbol: 'none', label: { show: false }, lineStyle: { color: '#d9d9d9', type: 'solid', width: 1.5 }, data: [{ yAxis: 0 }] } : undefined,
    })),
  };
}

function frontierOption() {
  const ax = (extra: any) => ({ type: 'value', axisLine: { show: true, lineStyle: { color: axisGray } }, axisTick: { show: true, length: 4, lineStyle: { color: axisGray } }, splitLine: { show: false }, ...extra });
  const pts = [ptActual, ptEqual, ptSharp, ptMinSd, ptMaxRet];
  const series: any[] = [];
  [0, 1].forEach(g => {
    series.push({ name: 'with Short Selling', type: 'line', xAxisIndex: g, yAxisIndex: g, data: g ? shortSellB : shortSellA, symbol: 'none', lineStyle: { color: '#d9d9d9', width: 3 }, itemStyle: { color: '#d9d9d9' }, z: 2 });
    series.push({ name: 'w/out Short Selling', type: 'line', xAxisIndex: g, yAxisIndex: g, data: g ? frontierB : frontierA, smooth: 0.2, symbol: 'none', lineStyle: { color: '#000', width: 3 }, itemStyle: { color: '#000' }, z: 3 });
    series.push({ name: 'CML (0%)', type: 'line', xAxisIndex: g, yAxisIndex: g, data: g ? cmlB : cmlA, symbol: 'none', lineStyle: { color: '#000', width: 2, type: 'dotted' }, itemStyle: { color: '#000' }, z: 3 });
    strategies.forEach((s, i) => series.push({ name: s, type: 'scatter', xAxisIndex: g, yAxisIndex: g, data: [pts[i]], symbolSize: 11, itemStyle: { color: stratColors[i] }, z: 5 }));
  });
  return {
    animation: false,
    textStyle: { fontFamily: NF },
    title: { text: 'Efficient Frontier', left: 658, top: 9, textStyle: { fontFamily: NF, fontSize: 17.5, fontWeight: 'bold', color: '#000' } },
    legend: {
      orient: 'vertical', left: 661, top: 38, itemWidth: 34, itemHeight: 10, itemGap: 8.5, textStyle: { fontFamily: NF, fontSize: 12.5, color: '#000' },
      data: [{ name: 'with Short Selling', ...hideSym }, { name: 'w/out Short Selling', ...hideSym }, { name: 'CML (0%)', ...hideSym }, ...strategies],
    },
    grid: [G({ left: 70, top: 14, width: 548, height: 301 }), G({ left: 70, top: 368, width: 535, height: 208 })],
    xAxis: [
      ax({ gridIndex: 0, min: 0, max: 18, interval: 2, axisLabel: lbl({ formatter: '{value}%' }) }),
      ax({ gridIndex: 1, min: 2.9, max: 4.7, interval: 0.2, axisLabel: lbl({ formatter: (v: number) => pct1(v) }) }),
    ],
    yAxis: [
      ax({ gridIndex: 0, min: 0, max: 9, interval: 1, axisLabel: lbl({ formatter: '{value}%' }) }),
      ax({ gridIndex: 1, min: 5.9, max: 6.6, interval: 0.1, axisLabel: lbl({ formatter: (v: number) => pct1(v) }) }),
    ],
    graphic: [
      gText('Expected Return', 25, 63, { rot: Math.PI / 2, ff: WF, fs: 11 }),
      gText('Expected Return', 25, 417, { rot: Math.PI / 2, ff: WF, fs: 11 }),
      gText('Risk (Std. Deviation)', 530, 351, { fs: 14 }),
      gText('Risk (Std. Deviation)', 548, 608, { fs: 14 }),
    ],
    series,
  };
}

function smallOption() {
  const ax = (extra: any) => ({ type: 'value', axisLine: { show: true, lineStyle: { color: axisGray } }, axisTick: { show: true, length: 4, lineStyle: { color: axisGray } }, splitLine: { show: true, lineStyle: { color: '#ddd9c3', width: 1.5 } }, ...extra });
  return {
    animation: false,
    textStyle: { fontFamily: NF },
    grid: G({ left: 94, top: 31, width: 248, height: 196 }),
    xAxis: ax({ min: 0, max: 20, interval: 5, axisLabel: lbl({ formatter: '{value}%' }) }),
    yAxis: ax({ min: 0, max: 8, interval: 1, axisLabel: lbl({ formatter: '{value}%' }) }),
    graphic: [gText('Return', 37, 48, { rot: Math.PI / 2, ff: WF, fs: 11 }), gText('Std. Dev.', 308, 260, { fs: 14 })],
    series: [
      { type: 'line', data: smallCurve, smooth: 0.3, symbol: 'none', lineStyle: { color: '#000', width: 1.5, type: 'dotted' }, z: 2 },
      { type: 'scatter', data: smallFunds, symbolSize: 11, itemStyle: { color: '#d9d9d9' }, z: 3 },
      { type: 'scatter', data: [smallActual], symbolSize: 11, itemStyle: { color: '#4bacc6' }, z: 4 },
      { type: 'scatter', data: [smallActualShort], symbol: 'emptyCircle', symbolSize: 10, itemStyle: { color: '#4bacc6', borderWidth: 1.5 }, z: 4 },
    ],
  };
}

function distOption() {
  const funds5 = [distFund1, distFund2, distFund3, distFund4, distFund5];
  const series: any[] = funds5.map(d => ({ name: 'Funds (held separately)', type: 'line', data: d, smooth: 0.35, symbol: 'none', lineStyle: { color: '#d9d9d9', width: 1.3 }, itemStyle: { color: '#d9d9d9' }, z: 2 }));
  series.push({ name: 'Portfolio (Actual %) - Short_DB', type: 'line', data: distShortDB, smooth: 0.35, symbol: 'none', lineStyle: { color: '#4bacc6', width: 5, type: [13, 10] }, itemStyle: { color: '#4bacc6' }, z: 3 });
  series.push({ name: 'sdw', type: 'line', data: distShortDB, smooth: 0.35, symbol: 'none', lineStyle: { color: '#ffffff', width: 1.8, type: [13, 10] }, z: 4, silent: true });
  series.push({ name: 'Portfolio (Actual %)', type: 'line', data: distActual, smooth: 0.35, symbol: 'none', lineStyle: { color: '#4bacc6', width: 4 }, itemStyle: { color: '#4bacc6' }, z: 5 });
  series.push({ name: 'mean', type: 'line', data: distMeanLine, symbol: 'none', lineStyle: { color: '#7cc8dc', width: 1 }, z: 5, silent: true });
  return {
    animation: false,
    textStyle: { fontFamily: NF },
    title: { text: 'Returns Distribution', left: 827, top: 183, textStyle: { fontFamily: NF, fontSize: 17, fontWeight: 'bold', color: '#000' } },
    legend: { orient: 'vertical', left: 831, top: 221, itemWidth: 36, itemHeight: 8, itemGap: 10, itemStyle: { opacity: 0 }, textStyle: { fontFamily: NF, fontSize: 12, color: '#000' }, data: ['Funds (held separately)', 'Portfolio (Actual %)', 'Portfolio (Actual %) - Short_DB'] },
    grid: G({ left: 84, top: 20, width: 972, height: 316 }),
    xAxis: { type: 'value', min: -10, max: 40, interval: 5, axisLabel: lbl({ formatter: (v: number) => pct1(v), margin: 10 }), axisLine: { show: true, lineStyle: { color: axisGray, width: 1.5 } }, axisTick: { show: true, length: 5, lineStyle: { color: axisGray } }, splitLine: { show: false } },
    yAxis: { type: 'value', min: 0, max: 0.1186, show: false },
    graphic: [gText('Rate of return (%)', 1007, 376, { fs: 14 })],
    series,
  };
}

function valOption() {
  const classColors: any = { 'Muito Barato': '#92d050', 'Barato': '#ffff66', 'Caro': '#f79646', 'Muito Caro': '#ff5050' };
  const catAxis = (g: number) => ({ gridIndex: g, type: 'category', inverse: true, data: valLabels, axisLine: { show: true, onZero: true, lineStyle: { color: '#000', width: 2 } }, axisTick: { show: true, length: 3, lineStyle: { color: '#000', width: 2 } }, axisLabel: { show: false } });
  const series: any[] = valClasses.map(c => ({ name: c, type: 'bar', xAxisIndex: 0, yAxisIndex: 0, stack: 'v', barWidth: 15, data: valScore.map((v, i) => (valClass[i] === c ? v : null)), itemStyle: { color: classColors[c] } }));
  series.push({
    name: 'YTD', type: 'bar', xAxisIndex: 1, yAxisIndex: 2, barWidth: 14,
    data: ytdReturn.map(v => {
      if (v == null) return { value: 0, label: { show: true, position: 'right', distance: 9, formatter: '#N/A' } };
      const pos = v < 0 ? (Math.abs(v) < 3 ? 'left' : 'insideLeft') : 'insideRight';
      return { value: v, itemStyle: { color: v < 0 ? '#c0504d' : '#92d050' }, label: { show: true, position: pos, distance: 3, formatter: pct1(v) } };
    }),
    label: { fontFamily: NF, fontSize: 12, color: '#404040' },
  });
  const legendItems: [string, string, number][] = [['Muito Barato', '#92d050', 125], ['Barato', '#ffff66', 235], ['Caro', '#f79646', 311], ['Muito Caro', '#ff5050', 376]];
  const graphic: any[] = [];
  legendItems.forEach(([t, c, x]) => {
    graphic.push({ type: 'rect', shape: { x, y: 375, width: 7, height: 12 }, style: { fill: c } });
    graphic.push(gText(t, x + 10, 381, { fw: 'normal', fs: 12.5, align: 'left' }));
  });
  graphic.push(gText('Last DB Entry : 7/11/2013', 463, 381, { fw: 'normal', fs: 12.5, align: 'left' }));
  graphic.push({ type: 'rect', shape: { x: 723, y: 376, width: 7, height: 12 }, style: { fill: '#92d050' } });
  graphic.push({ type: 'rect', shape: { x: 743, y: 376, width: 7, height: 12 }, style: { fill: '#c0504d' } });
  graphic.push(gText('YTD Return : 2013', 771, 382, { fw: 'normal', fs: 12.5, align: 'left' }));
  return {
    animation: false,
    textStyle: { fontFamily: NF },
    grid: [G({ left: 23, top: 16, width: 300, height: 356 }), G({ left: 672.5, top: 18, width: 214.5, height: 347 })],
    xAxis: [{ gridIndex: 0, type: 'value', min: -1, max: 1, show: false }, { gridIndex: 1, type: 'value', min: -10, max: 20, show: false }],
    yAxis: [
      catAxis(0),
      { gridIndex: 0, type: 'category', inverse: true, position: 'right', data: valLabels, axisLine: { show: false }, axisTick: { show: false }, axisLabel: { show: true, margin: 36, fontFamily: NF, fontSize: 12, color: '#000' } },
      catAxis(1),
    ],
    graphic,
    series,
  };
}

function accOption() {
  const arrs = [accActual, accEqual, accSharp, accMinSd, accMaxRet];
  return {
    animation: false,
    textStyle: { fontFamily: NF },
    grid: G({ left: 61, top: 16, width: 1603, height: 334 }),
    legend: { orient: 'vertical', left: 1725, top: 173, itemWidth: 24, itemHeight: 10, itemGap: 27, itemStyle: { opacity: 0 }, lineStyle: { width: 3 }, textStyle: { fontFamily: NF, fontSize: 11, color: '#000' }, data: strategies },
    xAxis: { type: 'value', min: 0, max: 38, interval: 1, axisLabel: { rotate: 90, formatter: (v: number) => accLabels[Math.round(v)] || '', fontFamily: WF, fontSize: 9, color: '#000', margin: 8 }, axisLine: { show: true, onZero: false, lineStyle: { color: axisGray } }, axisTick: { show: false }, splitLine: { show: true, lineStyle: { color: '#d9d9d9' } } },
    yAxis: { type: 'value', min: -30, max: 60, interval: 10, axisLabel: lbl({ formatter: '{value}%', fontSize: 11 }), axisLine: { show: true, lineStyle: { color: axisGray } }, axisTick: { show: true, lineStyle: { color: axisGray } }, splitLine: { show: true, lineStyle: { color: '#d9d9d9' } } },
    graphic: [
      gText('Return', 15, 43, { rot: Math.PI / 2, ff: WF, fs: 11 }),
      gText('Portofolio\nAccumulated\nReturn', 1709, 77, { fs: 20, align: 'left', lh: 29 }),
    ],
    series: arrs.map((a, i) => ({
      name: strategies[i], type: 'line', data: a.map((v, k) => [k / 2, v]), symbol: 'none',
      lineStyle: { color: stratColors[i], width: 2.5 }, itemStyle: { color: stratColors[i] }, z: 2 + i,
      markLine: i === 0 ? { silent: true, symbol: 'none', label: { show: false }, lineStyle: { color: '#000', type: 'solid', width: 2 }, data: [{ yAxis: 0 }] } : undefined,
    })),
  };
}

function ddOption() {
  const xa = (g: number, pos: string) => ({ type: 'value', gridIndex: g, min: 0, max: 70, interval: 2, position: pos, axisLabel: { rotate: 90, formatter: (v: number) => ddMonths[Math.round(v / 2)] || '', fontFamily: WF, fontSize: 9, color: '#000', margin: 6 }, axisLine: { show: true, onZero: false, lineStyle: { color: axisGray } }, axisTick: { show: false }, splitLine: { show: true, lineStyle: { color: '#a6a6a6' } } });
  return {
    animation: false,
    textStyle: { fontFamily: NF },
    grid: [G({ left: 69, top: 76, width: 931, height: 173 }), G({ left: 69, top: 271, width: 931, height: 343 })],
    xAxis: [xa(0, 'top'), xa(1, 'bottom')],
    yAxis: [
      { type: 'value', gridIndex: 0, min: 0, max: 100, interval: 10, axisLabel: lbl({ color: '#4a6e9e' }), axisLine: { show: true, lineStyle: { color: axisGray } }, splitLine: { show: true, lineStyle: { color: '#868686' } } },
      { type: 'value', gridIndex: 1, min: -30, max: 60, interval: 10, axisLabel: lbl({ formatter: '{value}%', color: '#c0504d' }), axisLine: { show: true, lineStyle: { color: axisGray } }, splitLine: { show: true, lineStyle: { color: '#868686' } } },
      { type: 'value', gridIndex: 1, position: 'right', min: -20, max: 0, interval: 2, axisLabel: lbl({ formatter: (v: number) => pct1(v), color: '#4f81bd' }), axisLine: { show: true, lineStyle: { color: axisGray } }, axisTick: { show: true, lineStyle: { color: axisGray } }, splitLine: { show: false } },
    ],
    graphic: [
      gText('No Days - Drawdown', 30, 137, { rot: Math.PI / 2, ff: WF, fs: 10, fill: '#4f81bd' }),
      gText('Performance', 24, 314, { rot: Math.PI / 2, ff: WF, fs: 10, fill: '#c0504d' }),
      gText('Drawdown', 1056, 375, { rot: Math.PI / 2, ff: WF, fs: 10, fill: '#4f81bd' }),
      gText('Portfolio : Actual', 69, 706, { fs: 19.5, align: 'left' }),
    ],
    series: [
      { type: 'line', xAxisIndex: 0, yAxisIndex: 0, data: ddDays, symbol: 'none', lineStyle: { width: 0 }, areaStyle: { opacity: 1, color: { type: 'linear', x: 0, y: 0, x2: 0, y2: 1, colorStops: [{ offset: 0, color: '#4a8ad8' }, { offset: 1, color: '#1f4e8c' }] } }, z: 2 },
      { type: 'line', xAxisIndex: 1, yAxisIndex: 2, data: ddDepth, symbol: 'none', lineStyle: { width: 0 }, areaStyle: { origin: 'end', opacity: 1, color: { type: 'linear', x: 0, y: 0, x2: 0, y2: 1, colorStops: [{ offset: 0, color: '#3f7fd0' }, { offset: 1, color: '#2a5898' }] } }, z: 2 },
      { type: 'line', xAxisIndex: 1, yAxisIndex: 1, data: ddTrend, symbol: 'none', lineStyle: { color: '#c0504d', width: 1.2, type: 'dotted' }, z: 3 },
      {
        type: 'line', xAxisIndex: 1, yAxisIndex: 1, data: accActual.map((v, k) => [k * 28 / 30.44, v]), symbol: 'none', lineStyle: { color: '#c0504d', width: 1.5 }, z: 4,
        markLine: { silent: true, symbol: 'none', label: { show: false }, lineStyle: { color: '#c0504d', type: 'solid', width: 1.5 }, data: [{ yAxis: 0 }] },
      },
    ],
  };
}

function retOption() {
  const mk = (g: number, arr: number[]) => ({
    type: 'bar', xAxisIndex: g, yAxisIndex: g, barWidth: 73,
    data: arr.map((v, i) => ({ value: v, itemStyle: { color: stratColors[i] } })),
    label: { show: true, position: 'top', distance: 7, fontFamily: NF, fontSize: 12, color: '#000', formatter: (p: any) => pct1(p.value) },
  });
  const xa = (g: number) => ({ type: 'category', gridIndex: g, data: strategies, axisLine: { show: true, lineStyle: { color: axisGray } }, axisTick: { show: false }, axisLabel: lbl({ fontSize: 11, margin: 12 }) });
  return {
    animation: false,
    textStyle: { fontFamily: NF },
    title: [
      { text: 'Portfolio Return (since start)', left: 330, top: 22, textAlign: 'center', textStyle: { fontFamily: NF, fontSize: 19, fontWeight: 'bold', color: '#000' } },
      { text: 'Portfolio Return (YTD)', left: 330, top: 342, textAlign: 'center', textStyle: { fontFamily: NF, fontSize: 19, fontWeight: 'bold', color: '#000' } },
    ],
    grid: [G({ left: 20, top: 42, width: 661, height: 241 }), G({ left: 20, top: 377, width: 661, height: 226 })],
    xAxis: [xa(0), xa(1)],
    yAxis: [{ type: 'value', gridIndex: 0, min: 40, max: 55, show: false }, { type: 'value', gridIndex: 1, min: 0, max: 6, show: false }],
    series: [mk(0, retSinceStart), mk(1, retYTD)],
  };
}

// ======================= APP =======================
export default function App() {
  const els: any[] = [];
  buildTables(els);
  return (
    <div style={{ position: 'absolute', left: 0, top: 0, width: 1908, height: 3192, background: '#fff', overflow: 'hidden', fontFamily: NF }}>
      {els}
      <svg style={{ position: 'absolute', left: 0, top: 0, zIndex: 1 }} width={1908} height={640}>
        <defs>
          <linearGradient id="ag" x1="0" x2="1" y1="0" y2="0">
            <stop offset="0" stopColor="#f4f4f4" />
            <stop offset="1" stopColor="#b5b5b5" />
          </linearGradient>
        </defs>
        {BSX.map((bx, k) => <polygon key={k} points={arrowPts(bx)} fill="url(#ag)" stroke="#7f7f7f" strokeWidth={1} />)}
      </svg>
      <EC x={0} y={640} w={900} h={430} make={plOption} />
      <EC x={900} y={640} w={1008} h={440} make={perfOption} />
      <EC x={0} y={1080} w={960} h={620} make={frontierOption} />
      <EC x={0} y={1660} w={1100} h={400} make={distOption} />
      <EC x={700} y={1540} w={380} h={290} make={smallOption} />
      <EC x={1000} y={1540} w={908} h={400} make={valOption} />
      <EC x={0} y={2030} w={1908} h={470} make={accOption} />
      <EC x={0} y={2440} w={1100} h={752} make={ddOption} />
      <EC x={1150} y={2470} w={720} h={660} make={retOption} />
    </div>
  );
}
